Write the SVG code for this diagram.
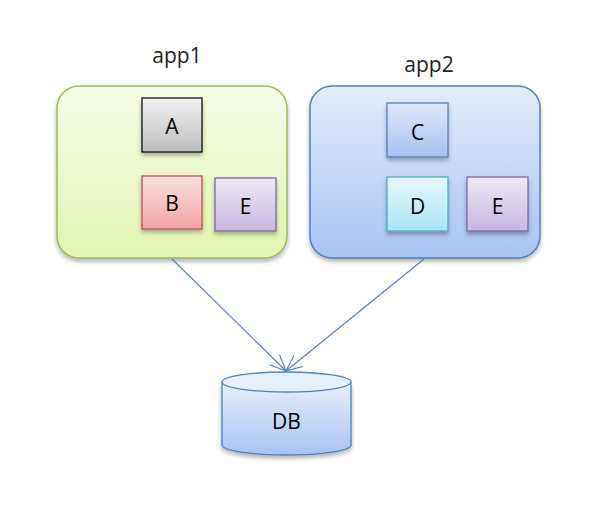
<svg xmlns="http://www.w3.org/2000/svg" width="590" height="514" viewBox="0 0 590 514">
<defs>
<linearGradient id="gApp1" x1="0" y1="0" x2="0" y2="1"><stop offset="0" stop-color="#f6fbe8"/><stop offset="1" stop-color="#e2f6b0"/></linearGradient>
<linearGradient id="gApp2" x1="0" y1="0" x2="0" y2="1"><stop offset="0" stop-color="#e4ecfb"/><stop offset="1" stop-color="#a8c3f3"/></linearGradient>
<linearGradient id="gA" x1="0" y1="0" x2="0" y2="1"><stop offset="0" stop-color="#f2f2f2"/><stop offset="1" stop-color="#bdbdbd"/></linearGradient>
<linearGradient id="gB" x1="0" y1="0" x2="0" y2="1"><stop offset="0" stop-color="#fae2e2"/><stop offset="1" stop-color="#f2a3a3"/></linearGradient>
<linearGradient id="gE" x1="0" y1="0" x2="0" y2="1"><stop offset="0" stop-color="#eeeaf6"/><stop offset="1" stop-color="#c6b7df"/></linearGradient>
<linearGradient id="gC" x1="0" y1="0" x2="0" y2="1"><stop offset="0" stop-color="#dfe8fa"/><stop offset="1" stop-color="#a6c0f2"/></linearGradient>
<linearGradient id="gD" x1="0" y1="0" x2="0" y2="1"><stop offset="0" stop-color="#e6f8fc"/><stop offset="1" stop-color="#a9e6f5"/></linearGradient>
<linearGradient id="gDB" x1="0" y1="0" x2="0" y2="1"><stop offset="0" stop-color="#e8effc"/><stop offset="1" stop-color="#a8c3f3"/></linearGradient>
<filter id="sh" x="-10%" y="-10%" width="130%" height="130%"><feGaussianBlur in="SourceAlpha" stdDeviation="2"/><feOffset dx="0" dy="3" result="b"/><feComponentTransfer><feFuncA type="linear" slope="0.3"/></feComponentTransfer><feMerge><feMergeNode/><feMergeNode in="SourceGraphic"/></feMerge></filter>
<marker id="arr" viewBox="0 0 20 20" refX="18" refY="10" markerWidth="20" markerHeight="20" markerUnits="userSpaceOnUse" orient="auto"><path d="M2,3 L18,10 L2,17" fill="none" stroke="#5a80bb" stroke-width="1.2"/></marker>
</defs>
<style>
text{font-family:"Open Sans","Liberation Sans",sans-serif;fill:#000;text-anchor:middle}
.lbl{font-size:21px}
.title{font-size:21px;fill:#222}
.conn{stroke:#5a80bb;stroke-width:1.2;fill:none}
</style>
<g id="app1">
<text class="title" x="177" y="63">app1</text>
<rect x="57" y="86" width="230" height="172" rx="22" fill="url(#gApp1)" stroke="#9bbb59" stroke-width="1.5" filter="url(#sh)"/>
</g>
<g id="A"><rect x="142" y="98" width="60" height="54" fill="url(#gA)" stroke="#111" stroke-width="1.3" filter="url(#sh)"/><text class="lbl" x="172" y="134">A</text></g>
<g id="B"><rect x="142" y="176" width="60" height="53" fill="url(#gB)" stroke="#c0504d" stroke-width="1.3" filter="url(#sh)"/><text class="lbl" x="172" y="211">B</text></g>
<g id="E1"><rect x="215" y="178" width="61" height="53" fill="url(#gE)" stroke="#8064a2" stroke-width="1.3" filter="url(#sh)"/><text class="lbl" x="245.5" y="214">E</text></g>
<g id="app2">
<text class="title" x="429" y="72">app2</text>
<rect x="310" y="86" width="230" height="172" rx="22" fill="url(#gApp2)" stroke="#4f81bd" stroke-width="1.5" filter="url(#sh)"/>
</g>
<g id="C"><rect x="387" y="103" width="61" height="54" fill="url(#gC)" stroke="#4f81bd" stroke-width="1.3" filter="url(#sh)"/><text class="lbl" x="417.5" y="140">C</text></g>
<g id="D"><rect x="387" y="177" width="61" height="54" fill="url(#gD)" stroke="#4bacc6" stroke-width="1.3" filter="url(#sh)"/><text class="lbl" x="417.5" y="214">D</text></g>
<g id="E2"><rect x="467" y="177" width="61" height="54" fill="url(#gE)" stroke="#8064a2" stroke-width="1.3" filter="url(#sh)"/><text class="lbl" x="497.5" y="214">E</text></g>
<g id="DB">
<path d="M222,382 L222,445 A64.5,10 0 0 0 351,445 L351,382" fill="url(#gDB)" stroke="#4f81bd" stroke-width="1.3" filter="url(#sh)"/>
<ellipse cx="286.5" cy="382" rx="64.5" ry="10" fill="#e8effc" stroke="#4f81bd" stroke-width="1.3"/>
<text class="lbl" x="286.5" y="429">DB</text>
</g>
<g id="connectors">
<line class="conn" x1="172" y1="259" x2="286" y2="371" marker-end="url(#arr)"/>
<line class="conn" x1="424" y1="259" x2="286" y2="371" marker-end="url(#arr)"/>
</g>
</svg>
